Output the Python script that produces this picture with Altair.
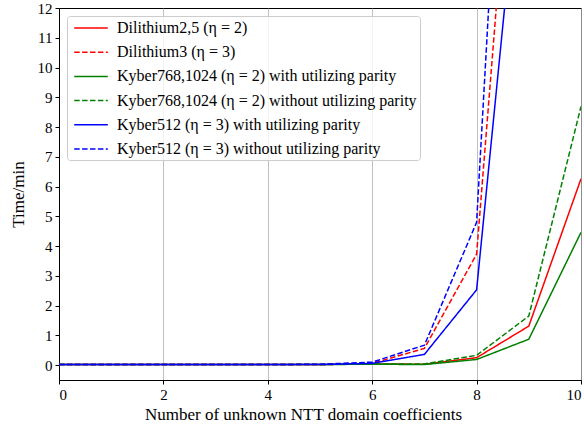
import altair as alt
import pandas as pd

xs = [0, 1, 2, 3, 4, 5, 6, 7, 8, 9, 10]

series_names = [
    "Dilithium2,5 (η = 2)",
    "Dilithium3 (η = 3)",
    "Kyber768,1024 (η = 2) with utilizing parity",
    "Kyber768,1024 (η = 2) without utilizing parity",
    "Kyber512 (η = 3) with utilizing parity",
    "Kyber512 (η = 3) without utilizing parity",
]
colors = ["#ff0000", "#ff0000", "#008000", "#008000", "#0000ff", "#0000ff"]
dashes = [[1, 0], [5.5, 2.4], [1, 0], [5.5, 2.4], [1, 0], [5.5, 2.4]]

dil25 = [0.02, 0.02, 0.02, 0.02, 0.02, 0.02, 0.04, 0.03, 0.25, 1.31, 6.26]
dil3 = [0.02, 0.02, 0.02, 0.02, 0.02, 0.02, 0.06, 0.56, 3.73, 25.7, 120.0]
ky768_par = [0.02, 0.02, 0.02, 0.02, 0.02, 0.02, 0.03, 0.02, 0.19, 0.87, 4.46]
ky768_nopar = [0.02, 0.02, 0.02, 0.02, 0.02, 0.02, 0.04, 0.04, 0.33, 1.65, 8.69]
ky512_par = [0.02, 0.02, 0.02, 0.02, 0.02, 0.02, 0.06, 0.36, 2.53, 20.2, 100.0]
ky512_nopar = [0.02, 0.02, 0.02, 0.02, 0.02, 0.03, 0.1, 0.67, 4.8, 36.0, 150.0]

all_vals = [dil25, dil3, ky768_par, ky768_nopar, ky512_par, ky512_nopar]

rows = []
for name, vals in zip(series_names, all_vals):
    for x, v in zip(xs, vals):
        rows.append({"series": name, "x": x, "y": v})
df = pd.DataFrame(rows)

F = "Liberation Serif"

leg = dict(title=None, orient="none", legendX=8, legendY=8, labelFont=F,
           labelFontSize=16, labelColor="#000",
           symbolType="M-2.1,0H2.1", symbolSize=256, symbolStrokeWidth=1.5,
           rowPadding=7.2, padding=3, strokeColor="#cccccc",
           fillColor="rgba(255,255,255,0.8)", cornerRadius=3, labelLimit=400,
           symbolOffset=12, labelOffset=17)

chart = alt.Chart(df).mark_line(clip=True, strokeWidth=1.5).encode(
    x=alt.X("x:Q", scale=alt.Scale(domain=[0, 10], nice=False, zero=False),
            axis=alt.Axis(title="Number of unknown NTT domain coefficients",
                          values=[0, 2, 4, 6, 8, 10], grid=True, format="d",
                          labelFont=F, titleFont=F, titleX=244, titleAlign="center")),
    y=alt.Y("y:Q", scale=alt.Scale(domain=[-0.5, 12], nice=False, zero=False),
            axis=alt.Axis(title="Time/min", values=list(range(0, 13)), grid=False, format="d",
                          labelFont=F, titleFont=F)),
    color=alt.Color("series:N", scale=alt.Scale(domain=series_names, range=colors),
                    legend=alt.Legend(**leg)),
    strokeDash=alt.StrokeDash("series:N", scale=alt.Scale(domain=series_names, range=dashes),
                              legend=alt.Legend(**leg)),
    order="x:Q",
).properties(
    width=522, height=372,
    autosize=alt.AutoSizeParams(type="none"),
    padding={"left": 59, "top": 8, "right": 3, "bottom": 48},
).configure(
    font=F,
).configure_view(
    stroke="#000000", strokeWidth=1
).configure_axis(
    labelFont=F, titleFont=F,
    labelFontSize=15, titleFontSize=17,
    labelColor="#000", titleColor="#000", titleFontWeight="normal",
    domainColor="#000", tickColor="#000", tickSize=4, labelPadding=3,
    gridColor="#b0b0b0", gridWidth=0.8,
).configure_axisX(
    titlePadding=4,
).configure_axisY(
    titlePadding=10,
).configure_legend(
    labelFont=F,
)

chart.save("out.html", embed_options={"renderer": "svg", "actions": False})
